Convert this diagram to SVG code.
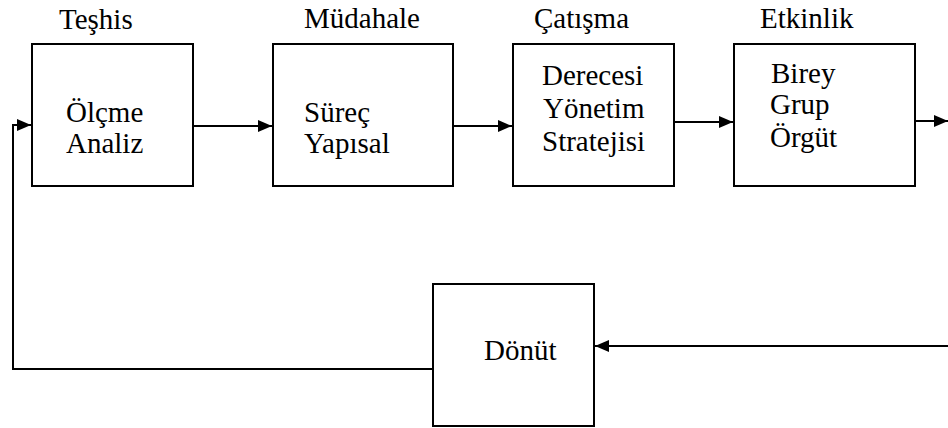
<svg xmlns="http://www.w3.org/2000/svg" width="948" height="428" viewBox="0 0 948 428">
<style>
.box{fill:#fff;stroke:#000;stroke-width:2}
.ln{fill:none;stroke:#000;stroke-width:2}
.t{font-family:'Liberation Serif','Times New Roman',serif;font-size:29px;fill:#000}
</style>
<defs>
<marker id="ah" markerUnits="userSpaceOnUse" markerWidth="14" markerHeight="12" refX="14" refY="6" orient="auto">
<path d="M0,0 L14,6 L0,12 z" fill="#000"/>
</marker>
</defs>
<rect width="948" height="428" fill="#fff"/>
<g id="labels" class="t">
<text x="59" y="29">Teşhis</text>
<text x="304" y="28">Müdahale</text>
<text x="534" y="28">Çatışma</text>
<text x="760" y="28">Etkinlik</text>
</g>
<g id="connectors">
<line class="ln" x1="193" y1="126" x2="272" y2="126" marker-end="url(#ah)"/>
<line class="ln" x1="453" y1="126" x2="512" y2="126" marker-end="url(#ah)"/>
<line class="ln" x1="674" y1="122" x2="733" y2="122" marker-end="url(#ah)"/>
<line class="ln" x1="915" y1="121" x2="948" y2="121" marker-end="url(#ah)"/>
<line class="ln" x1="948" y1="346" x2="595" y2="346" marker-end="url(#ah)"/>
<polyline class="ln" points="433,369 13,369 13,125 31,125" marker-end="url(#ah)"/>
</g>
<g id="n1" class="t">
<rect class="box" x="32" y="44" width="161" height="142"/>
<text x="66" y="122">Ölçme</text>
<text x="66" y="153">Analiz</text>
</g>
<g id="n2" class="t">
<rect class="box" x="273" y="44" width="180" height="142"/>
<text x="304" y="122">Süreç</text>
<text x="304" y="153">Yapısal</text>
</g>
<g id="n3" class="t">
<rect class="box" x="513" y="44" width="161" height="142"/>
<text x="542" y="85">Derecesi</text>
<text x="543" y="118">Yönetim</text>
<text x="542" y="151">Stratejisi</text>
</g>
<g id="n4" class="t">
<rect class="box" x="734" y="44" width="181" height="142"/>
<text x="771" y="83">Birey</text>
<text x="770" y="114">Grup</text>
<text x="770" y="147">Örgüt</text>
</g>
<g id="n5" class="t">
<rect class="box" x="433" y="284" width="161" height="142"/>
<text x="484" y="360">Dönüt</text>
</g>
</svg>
